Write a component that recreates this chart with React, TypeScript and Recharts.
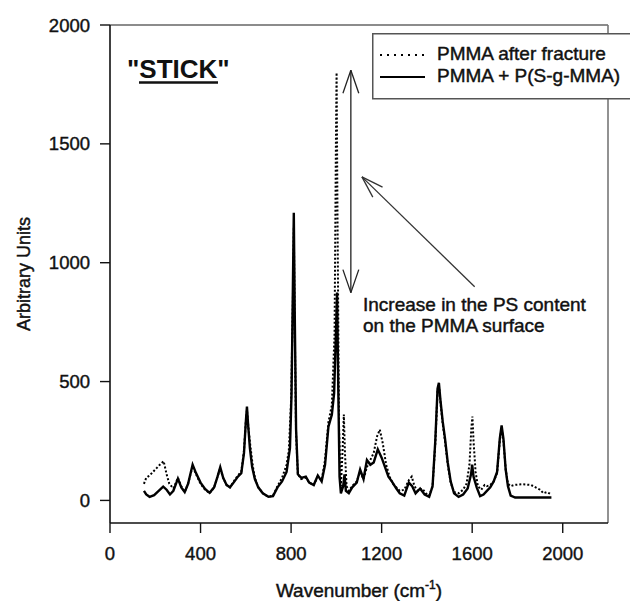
import React from 'react';
import { LineChart, Line, XAxis, YAxis, ReferenceLine, Legend, Customized } from 'recharts';

const FONT = '"Liberation Sans", Arial, Helvetica, sans-serif';

const xTicks = [0, 400, 800, 1200, 1600, 2000];
const yTicks = [0, 500, 1000, 1500, 2000];
const xDomain = [0, 2200];
const yDomain = [-95, 2000];

const seriesNames = ['PMMA after fracture', 'PMMA + P(S-g-MMA)'];

// PMMA + P(S-g-MMA) (solid)
const solidWavenumber = [
  150, 160, 175, 195, 215, 235, 250, 265, 280, 300, 315, 330, 345, 365, 380, 400, 420, 440, 460, 475,
  487, 500, 515, 530, 550, 565, 580, 592, 600, 605, 610, 618, 628, 640, 655, 675, 700, 720, 740, 760,
  780, 795, 802, 808, 812, 816, 822, 830, 845, 865, 880, 900, 918, 935, 950, 965, 980, 990, 998, 1003,
  1008, 1014, 1020, 1030, 1036, 1042, 1055, 1070, 1090, 1105, 1120, 1135, 1150, 1165, 1183, 1200, 1215, 1230, 1245, 1265,
  1280, 1300, 1320, 1335, 1350, 1370, 1390, 1410, 1425, 1437, 1447, 1453, 1460, 1470, 1480, 1492, 1505, 1520, 1540, 1560,
  1580, 1595, 1600, 1606, 1620, 1635, 1650, 1665, 1680, 1695, 1710, 1722, 1730, 1738, 1748, 1758, 1770, 1790, 1850, 1900,
  1950,
];
const solidIntensity = [
  40, 25, 15, 22, 40, 58, 45, 25, 40, 92, 55, 35, 70, 150, 115, 75, 48, 32, 55, 100,
  140, 95, 65, 55, 80, 100, 115, 200, 330, 395, 320, 220, 140, 90, 55, 30, 15, 18, 55, 80,
  120, 220, 450, 900, 1210, 800, 300, 110, 95, 100, 75, 65, 105, 80, 150, 310, 360, 450, 700, 875,
  500, 100, 30, 60, 110, 40, 30, 55, 75, 130, 90, 170, 150, 160, 215, 180, 140, 100, 80, 50,
  30, 20, 75, 60, 30, 50, 25, 15, 60, 250, 470, 495, 420, 330, 260, 160, 80, 30, 15, 25,
  50, 110, 150, 100, 55, 18, 25, 40, 55, 80, 120, 260, 315, 260, 130, 60, 20, 12, 12, 12,
  12,
];

// PMMA after fracture (dotted)
const dottedWavenumber = [
  150, 160, 175, 190, 205, 220, 237, 250, 262, 280, 300, 315, 330, 345, 365, 380, 400, 420, 440, 460,
  475, 487, 500, 515, 530, 550, 565, 580, 592, 600, 605, 612, 620, 630, 640, 655, 675, 700, 720, 740,
  760, 780, 790, 800, 808, 812, 816, 822, 830, 845, 865, 880, 900, 918, 935, 950, 965, 980, 992, 998,
  1001, 1005, 1012, 1020, 1027, 1033, 1038, 1045, 1055, 1070, 1090, 1105, 1120, 1135, 1150, 1165, 1180, 1192, 1205, 1220,
  1235, 1250, 1265, 1280, 1300, 1320, 1333, 1345, 1360, 1380, 1395, 1410, 1425, 1437, 1447, 1453, 1460, 1470, 1480, 1492,
  1505, 1520, 1540, 1560, 1575, 1588, 1596, 1601, 1606, 1615, 1625, 1640, 1655, 1665, 1680, 1695, 1710, 1722, 1730, 1738,
  1748, 1758, 1770, 1785, 1820, 1860, 1880, 1900, 1915, 1930, 1950,
];
const dottedIntensity = [
  70, 95, 105, 120, 135, 150, 165, 110, 70, 50, 95, 60, 35, 70, 145, 110, 70, 45, 30, 55,
  100, 135, 95, 65, 55, 85, 105, 120, 210, 330, 380, 300, 230, 150, 95, 55, 30, 15, 20, 60,
  95, 150, 210, 420, 850, 1150, 750, 280, 110, 90, 95, 75, 65, 100, 85, 170, 330, 400, 700, 1500,
  1800, 1200, 300, 60, 200, 361, 200, 60, 40, 60, 80, 120, 90, 140, 170, 200, 270, 298, 240, 150,
  100, 70, 55, 40, 45, 85, 100, 60, 40, 50, 30, 20, 60, 240, 460, 485, 410, 320, 250, 150,
  75, 35, 30, 45, 70, 150, 300, 353, 250, 120, 60, 45, 65, 60, 65, 80, 115, 250, 305, 250,
  130, 70, 60, 65, 68, 65, 55, 45, 30, 35, 25,
];

// annotation arrows, in data units
const doubleArrowX = 1064;
const doubleArrowLow = 874;
const doubleArrowHigh = 1810;
const diagArrowTip = { x: 1113, y: 1361 };
const diagArrowTail = { x: 1611, y: 899 };
const diagArrowArms = [{ x: 1204, y: 1318 }, { x: 1161, y: 1276 }];
const headHalfX = 35;
const headLenY = 97;

const solidData = solidWavenumber.map((x, i) => ({ x, y: solidIntensity[i] }));
const dottedData = dottedWavenumber.map((x, i) => ({ x, y: dottedIntensity[i] }));

const textStyle = { fontFamily: FONT, fill: '#111', stroke: '#111', strokeWidth: 0.45 };

const LegendBox = () => (
  <svg width={258} height={68} style={{ display: 'block', overflow: 'hidden' }}>
    <rect x={0.75} y={0.75} width={300} height={65} fill="#fff" stroke="#555" strokeWidth={1.5} />
    <line x1={8} x2={53} y1={22} y2={22} stroke="#000" strokeWidth={2} strokeDasharray="2 5" />
    <text x={65} y={27} fontSize={19} {...textStyle}>{seriesNames[0]}</text>
    <line x1={8} x2={53} y1={44} y2={44} stroke="#000" strokeWidth={2} />
    <text x={65} y={49} fontSize={19} {...textStyle}>{seriesNames[1]}</text>
  </svg>
);

const Annotations = () => (
  <g>
    <text x={127} y={78} fontSize={26} fontWeight="bold" style={{ fontFamily: FONT }} fill="#111">
      "STICK"
    </text>
    <line x1={139} x2={218} y1={82.5} y2={82.5} stroke="#111" strokeWidth={2.5} />
    <text x={363} y={311} fontSize={19} {...textStyle}>Increase in the PS content</text>
    <text x={363} y={332} fontSize={19} {...textStyle}>on the PMMA surface</text>
    <text transform="translate(30,274) rotate(-90)" textAnchor="middle" fontSize={18} {...textStyle}>
      Arbitrary Units
    </text>
    <text x={359} y={597} textAnchor="middle" fontSize={19} {...textStyle}>
      Wavenumber (cm<tspan fontSize={12} dy={-8}>-1</tspan><tspan dy={8}>)</tspan>
    </text>
  </g>
);

const tickStyle = { fontSize: 18.5, fontFamily: FONT, fill: '#111', stroke: '#111', strokeWidth: 0.4 };

export default function App() {
  return (
    <div style={{ position: 'relative', width: 630, height: 601 }}>
      <style>{`body{margin:0;overflow:hidden}`}</style>
      <LineChart width={630} height={601} margin={{ top: 25, right: 22, left: 50, bottom: 38 }}>
        <XAxis
          type="number"
          dataKey="x"
          domain={xDomain}
          ticks={xTicks}
          allowDataOverflow
          height={40}
          tickSize={10}
          tickMargin={14}
          tick={tickStyle}
          axisLine={{ stroke: '#111', strokeWidth: 1.6 }}
          tickLine={{ stroke: '#111', strokeWidth: 1.4 }}
        />
        <YAxis
          type="number"
          domain={yDomain}
          ticks={yTicks}
          allowDataOverflow
          width={60}
          tickSize={10}
          tickMargin={10}
          tick={tickStyle}
          axisLine={{ stroke: '#111', strokeWidth: 1.6 }}
          tickLine={{ stroke: '#111', strokeWidth: 1.4 }}
        />
        <ReferenceLine y={2000} stroke="#666" strokeWidth={1.6} ifOverflow="extendDomain" />
        <ReferenceLine x={2200} stroke="#777" strokeWidth={1.6} ifOverflow="extendDomain" />
        <Line
          data={dottedData}
          dataKey="y"
          name={seriesNames[0]}
          type="linear"
          stroke="#000"
          strokeWidth={2}
          strokeDasharray="2 2"
          dot={false}
          isAnimationActive={false}
        />
        <Line
          data={solidData}
          dataKey="y"
          name={seriesNames[1]}
          type="linear"
          stroke="#000"
          strokeWidth={2.4}
          dot={false}
          isAnimationActive={false}
        />
        <ReferenceLine
          segment={[{ x: doubleArrowX, y: doubleArrowLow }, { x: doubleArrowX, y: doubleArrowHigh }]}
          stroke="#222"
          strokeWidth={1.3}
        />
        <ReferenceLine
          segment={[{ x: doubleArrowX - headHalfX, y: doubleArrowHigh - headLenY }, { x: doubleArrowX, y: doubleArrowHigh }]}
          stroke="#222"
          strokeWidth={1.3}
        />
        <ReferenceLine
          segment={[{ x: doubleArrowX + headHalfX, y: doubleArrowHigh - headLenY }, { x: doubleArrowX, y: doubleArrowHigh }]}
          stroke="#222"
          strokeWidth={1.3}
        />
        <ReferenceLine
          segment={[{ x: doubleArrowX - headHalfX, y: doubleArrowLow + headLenY }, { x: doubleArrowX, y: doubleArrowLow }]}
          stroke="#222"
          strokeWidth={1.3}
        />
        <ReferenceLine
          segment={[{ x: doubleArrowX + headHalfX, y: doubleArrowLow + headLenY }, { x: doubleArrowX, y: doubleArrowLow }]}
          stroke="#222"
          strokeWidth={1.3}
        />
        <ReferenceLine segment={[diagArrowTail, diagArrowTip]} stroke="#333" strokeWidth={1.3} />
        <ReferenceLine segment={[diagArrowArms[0], diagArrowTip]} stroke="#333" strokeWidth={1.3} />
        <ReferenceLine segment={[diagArrowArms[1], diagArrowTip]} stroke="#333" strokeWidth={1.3} />
        <Legend
          layout="vertical"
          align="center"
          verticalAlign="middle"
          content={<LegendBox />}
          wrapperStyle={{ left: 372, top: 33, width: 258, height: 68 }}
        />
        <Customized component={Annotations} />
      </LineChart>
    </div>
  );
}
